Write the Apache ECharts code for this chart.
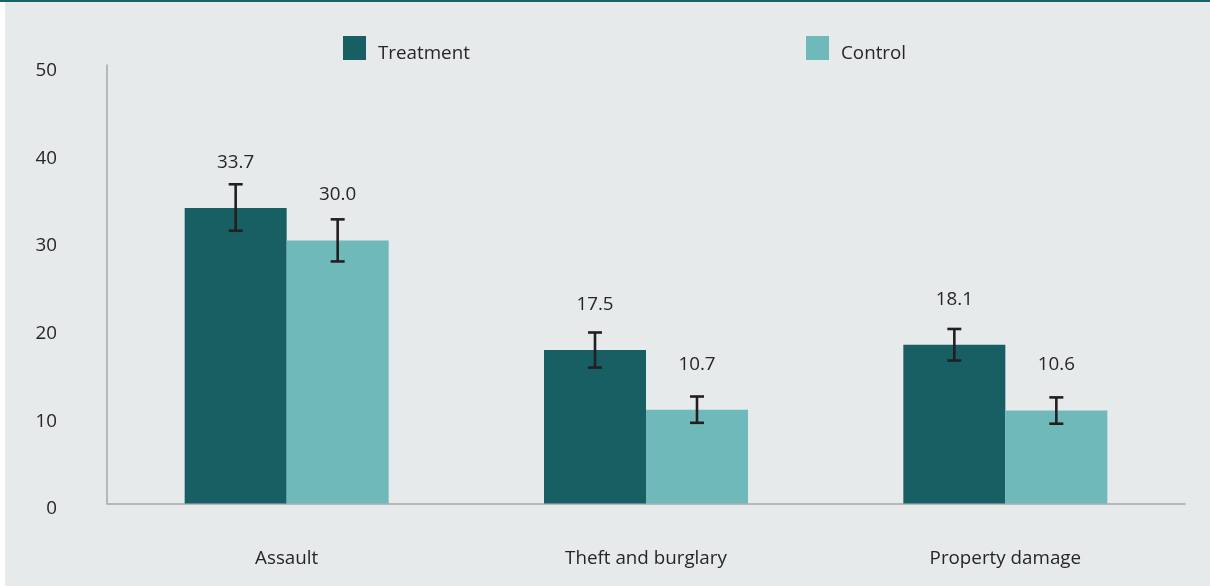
<!DOCTYPE html>
<html>
<head>
<meta charset="utf-8">
<script src="https://cdn.jsdelivr.net/npm/echarts@6/dist/echarts.min.js"></script>
<style>
html,body{margin:0;padding:0;background:#ffffff;}
#bg{position:absolute;left:5px;top:0;width:1205px;height:586px;background:#e6eaeb;}
#topline{position:absolute;left:0;top:0;width:1210px;height:2px;background:#176366;}
#main{position:absolute;left:0;top:0;width:1210px;height:587px;}
</style>
</head>
<body>
<div id="bg"></div>
<div id="topline"></div>
<div id="main"></div>
<script>
var categories = ['Assault', 'Theft and burglary', 'Property damage'];
var seriesNames = ['Treatment', 'Control'];
var treatment = [33.7, 17.5, 18.1];
var control = [30.0, 10.7, 10.6];
var treatmentLow = [31.1, 15.5, 16.3];
var treatmentHigh = [36.4, 19.5, 19.9];
var controlLow = [27.6, 9.2, 9.1];
var controlHigh = [32.4, 12.2, 12.1];
var yTicks = [0, 10, 20, 30, 40, 50];

var colors = ['#175f63', '#6fb9bb'];
var barWidth = 102;
var font = 'Open Sans';
var fs = 18.8;

function errorSeries(name, low, high, side) {
  return {
    type: 'custom',
    name: name + ' error',
    z: 10,
    silent: true,
    data: categories.map(function (c, i) { return [i, low[i], high[i]]; }),
    renderItem: function (params, api) {
      var i = api.value(0);
      var p1 = api.coord([i, api.value(1)]);
      var p2 = api.coord([i, api.value(2)]);
      var x = p1[0] + side * barWidth / 2;
      var cap = 7;
      var style = { stroke: '#231f20', lineWidth: 2.6 };
      return {
        type: 'group',
        children: [
          { type: 'line', shape: { x1: x, y1: p1[1], x2: x, y2: p2[1] }, style: style },
          { type: 'line', shape: { x1: x - cap, y1: p1[1], x2: x + cap, y2: p1[1] }, style: style },
          { type: 'line', shape: { x1: x - cap, y1: p2[1], x2: x + cap, y2: p2[1] }, style: style }
        ]
      };
    }
  };
}

var legendText = {
  fontSize: fs, color: '#262626', fontFamily: font,
  rich: { t: { fontSize: fs, color: '#262626', fontFamily: font, lineHeight: 24, padding: [8, 0, 0, 7], verticalAlign: 'top' } }
};

var chart = echarts.init(document.getElementById('main'));
chart.setOption({
  animation: false,
  backgroundColor: 'transparent',
  textStyle: { fontFamily: font },
  legend: [
    { data: [seriesNames[0]], left: 343, top: 36, padding: 0, itemWidth: 23, itemHeight: 24, itemGap: 0,
      icon: 'rect', formatter: '{t|{name}}', textStyle: legendText },
    { data: [seriesNames[1]], left: 806, top: 36, padding: 0, itemWidth: 23, itemHeight: 24, itemGap: 0,
      icon: 'rect', formatter: '{t|{name}}', textStyle: legendText }
  ],
  grid: { left: 107, right: 25, top: 65, bottom: 83.5, containLabel: false },
  xAxis: {
    type: 'category',
    data: categories,
    axisLine: { show: true, lineStyle: { color: '#a6a6a6', width: 1.5 } },
    axisTick: { show: false },
    axisLabel: { margin: 46, fontSize: fs, color: '#262626', fontFamily: font }
  },
  yAxis: {
    type: 'value',
    min: yTicks[0],
    max: yTicks[yTicks.length - 1],
    interval: 10,
    splitLine: { show: false },
    axisLine: { show: true, lineStyle: { color: '#a6a6a6', width: 1.5 } },
    axisTick: { show: false },
    axisLabel: { margin: 50, fontSize: fs, color: '#262626', fontFamily: font,
      verticalAlign: 'top', lineHeight: 11 }
  },
  series: [
    { type: 'bar', name: seriesNames[0], data: treatment, barWidth: barWidth, barGap: '0%',
      itemStyle: { color: colors[0] },
      label: { show: true, position: 'top', distance: 36, fontSize: fs, color: '#262626',
        fontFamily: font, formatter: function (p) { return p.value.toFixed(1); } } },
    { type: 'bar', name: seriesNames[1], data: control, barWidth: barWidth, barGap: '0%',
      itemStyle: { color: colors[1] },
      label: { show: true, position: 'top', distance: 36, fontSize: fs, color: '#262626',
        fontFamily: font, formatter: function (p) { return p.value.toFixed(1); } } },
    errorSeries(seriesNames[0], treatmentLow, treatmentHigh, -1),
    errorSeries(seriesNames[1], controlLow, controlHigh, 1)
  ]
});
</script>
</body>
</html>
